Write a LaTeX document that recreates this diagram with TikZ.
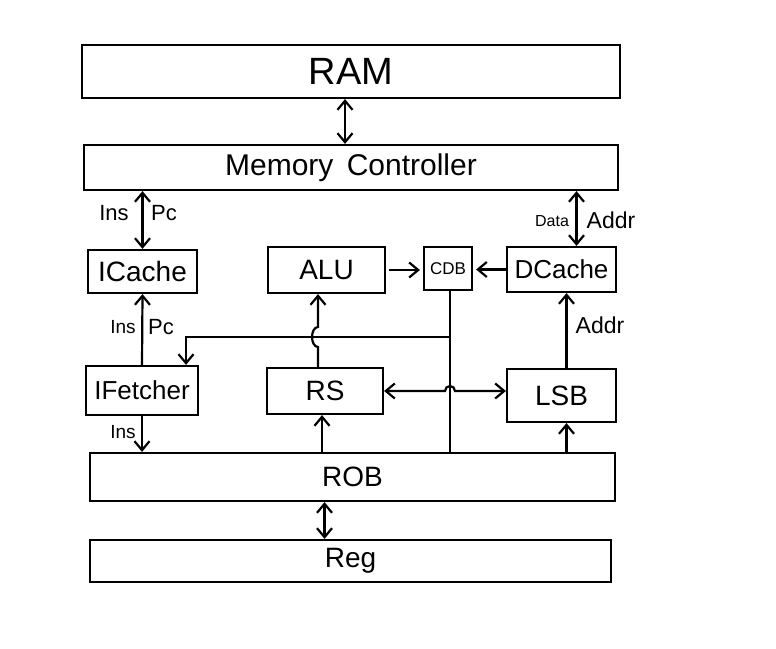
\documentclass[tikz,border=0pt]{standalone}
\usepackage{fontspec}
\setmainfont{Liberation Sans}
\usetikzlibrary{arrows.meta}
\begin{document}
\begin{tikzpicture}[x=1pt,y=1pt, line width=2.2pt,
  box/.style={draw, inner sep=0pt, font=\fontsize{28}{30}\selectfont},
  lbl/.style={inner sep=0pt, font=\fontsize{22}{24}\selectfont},
  arr/.style={-{Straight Barb[length=9pt,width=15pt]}},
  dbl/.style={{Straight Barb[length=9pt,width=15pt]}-{Straight Barb[length=9pt,width=15pt]}}]
\useasboundingbox (0,0) rectangle (776,648);
\fill[white] (0,0) rectangle (776,648);

% boxes
\node[box, minimum width=538pt, minimum height=53pt, font=\fontsize{38}{40}\selectfont] (ram) at (351,576.5) {RAM};
\node[box, minimum width=534pt, minimum height=45pt, font=\fontsize{30}{32}\selectfont] (mc) at (351,480.5) {Memory\, Controller};
\node[box, minimum width=109pt, minimum height=43pt] (icache) at (142.5,376.5) {ICache};
\node[box, minimum width=117pt, minimum height=46pt] (alu) at (326.5,378) {ALU};
\node[box, minimum width=48pt, minimum height=43pt, font=\fontsize{17}{19}\selectfont] (cdb) at (448,379.5) {CDB};
\node[box, minimum width=109pt, minimum height=45pt, font=\fontsize{26}{28}\selectfont] (dcache) at (561.5,378.5) {DCache};
\node[box, minimum width=112pt, minimum height=49pt, font=\fontsize{26}{28}\selectfont] (ifetch) at (142,257.5) {IFetcher};
\node[box, minimum width=116pt, minimum height=46pt] (rs) at (325,257) {RS};
\node[box, minimum width=109pt, minimum height=53pt] (lsb) at (561.5,252.5) {LSB};
\node[box, minimum width=525pt, minimum height=48pt] (rob) at (352.5,171) {ROB};
\node[box, minimum width=521pt, minimum height=42pt] (reg) at (350.5,87) {Reg};

% RAM <-> Memory Controller
\draw[dbl] ([xshift=-6pt]ram.south) -- ([xshift=-6pt]mc.north);

% Memory Controller <-> ICache
\draw[dbl] (mc.south -| icache.north) -- (icache.north);
\node[lbl] (l1) at (114,435) {Ins};
\node[lbl] (l2) at (164,435) {Pc};

% IFetcher -> ICache
\draw[arr] (ifetch.north) -- (icache.south);
\node[lbl, font=\fontsize{19}{21}\selectfont] (l3) at (123,321) {Ins};
\node[lbl] (l4) at (161,321) {Pc};

% CDB bus
\coordinate (bt) at ([xshift=2pt]cdb.south);
\coordinate (bj) at (bt |- 0,311);
\coordinate (bb) at (bt |- rob.north);
\draw (bt) -- (bb);
\draw[arr] (bj) -| ([xshift=44pt]ifetch.north);

% RS -> ALU (with hop)
\coordinate (ra) at ([xshift=-7pt]rs.north);
\draw[arr] (ra) -- (ra |- 0,301) arc[start angle=270, end angle=90, x radius=6, y radius=10] -- (ra |- alu.south);

% RS <-> LSB (with hop over bus)
\coordinate (hp) at (rs.east -| bt);
\draw[dbl] (rs.east) -- ([xshift=-5pt]hp) arc[start angle=180, end angle=0, radius=5] -- (rs.east -| lsb.west);

% ALU -> CDB, DCache -> CDB
\draw[arr, shorten <=3pt, shorten >=3pt] (alu.east) -- (alu.east -| cdb.west);
\draw[arr, shorten >=3pt] (dcache.west) -- (dcache.west -| cdb.east);

% Memory Controller <-> DCache
\coordinate (dt) at ([xshift=15pt]dcache.north);
\draw[dbl] (dt |- mc.south) -- (dt);
\node[lbl, font=\fontsize{16}{18}\selectfont] (l5) at (552,427) {Data};
\node[lbl, font=\fontsize{23}{25}\selectfont] (l6) at (611,428) {Addr};

% LSB -> DCache
\draw[arr] ([xshift=5pt]lsb.north) -- ([xshift=5pt]dcache.south);
\node[lbl, font=\fontsize{23}{25}\selectfont] (l7) at (600,323) {Addr};

% ROB -> RS, ROB -> LSB
\draw[arr] (rob.north -| ra) ++(4,0) coordinate (rr) -- (rr |- rs.south);
\draw[arr] ([xshift=5pt]lsb.south |- rob.north) -- ([xshift=5pt]lsb.south);

% IFetcher -> ROB
\draw[arr] (ifetch.south) -- (ifetch.south |- rob.north);
\node[lbl, font=\fontsize{19}{21}\selectfont] (l8) at (123,216) {Ins};

% ROB <-> Reg
\draw[dbl] ([xshift=-28pt]rob.south) -- ([xshift=-28pt]rob.south |- reg.north);
\end{tikzpicture}
\end{document}
